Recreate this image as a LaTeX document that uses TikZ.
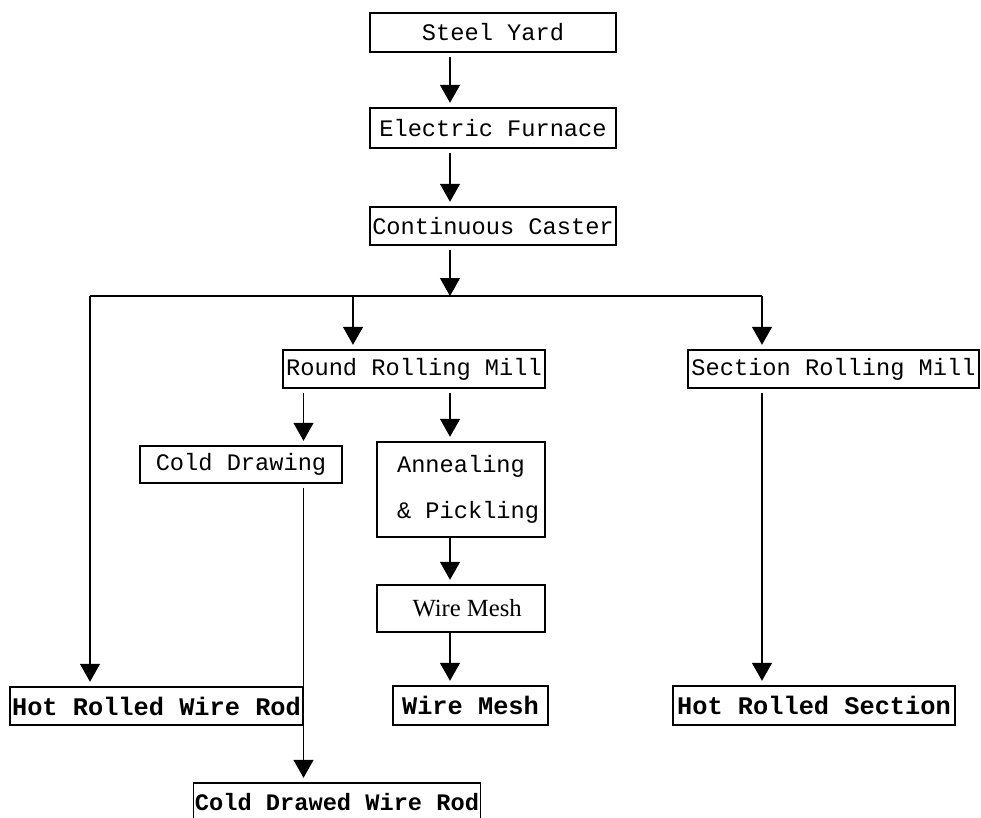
\documentclass[tikz,border=0pt]{standalone}
\usepackage{fontspec}
\setmonofont{Liberation Mono}
\newfontfamily\meshfont{Liberation Serif}
\usetikzlibrary{arrows.meta}

\begin{document}
\begin{tikzpicture}[x=0.75pt,y=0.75pt,yscale=-1,xscale=1,
  stagebox/.style={draw,line width=0.8pt,inner sep=0pt,font=\ttfamily\fontsize{17.75}{20}\selectfont},
  goodsbox/.style={draw,line width=0.8pt,inner sep=0pt,font=\ttfamily\bfseries\fontsize{19}{22}\selectfont},
  flow/.style={line width=1pt,-{Triangle[width=15pt,length=13.5pt]},shorten <=3pt,shorten >=3.5pt}]
\useasboundingbox (0,0) rectangle (981,817);

% Text Node
\node [stagebox,minimum width=184.5pt,minimum height=29.25pt] (yard) at (493,32.5) {Steel Yard};
% Text Node
\node [stagebox,minimum width=184.5pt,minimum height=30pt] (furnace) at (493,128) {Electric Furnace};
% Text Node
\node [stagebox,minimum width=184.5pt,minimum height=28.5pt] (caster) at (493,226) {Continuous Caster};
% Text Node
\node [stagebox,minimum width=196.5pt,minimum height=28.5pt] (round) at (414,369) {Round Rolling Mill};
% Text Node
\node [stagebox,minimum width=218.25pt,minimum height=28.5pt] (section) at (833.5,369) {Section Rolling Mill};
% Text Node
\node [stagebox,minimum width=151.5pt,minimum height=27.75pt] (colddraw) at (241,464.5) {Cold Drawing};
% Text Node
\node [stagebox,minimum width=126pt,minimum height=71.25pt,align=center,font=\ttfamily\fontsize{17.75}{35}\selectfont] (anneal) at (461,489.5) {Annealing\\\ \& Pickling};
% Text Node
\node [stagebox,minimum width=126pt,minimum height=35.25pt,font=\meshfont\fontsize{18.5}{20}\selectfont] (mesh) at (461,608.5) {\ \ Wire Mesh};
% Text Node
\node [goodsbox,minimum width=219.75pt,minimum height=28.5pt] (hotrod) at (156.5,706) {Hot Rolled Wire Rod};
% Text Node
\node [goodsbox,minimum width=116.25pt,minimum height=29.25pt] (meshprod) at (470.5,705.5) {Wire Mesh};
% Text Node
\node [goodsbox,minimum width=211.5pt,minimum height=29.25pt] (hotsec) at (814,705.5) {Hot Rolled Section};
% Text Node
\node [goodsbox,minimum width=215.25pt,minimum height=28.5pt,font=\ttfamily\bfseries\fontsize{17.75}{20}\selectfont] (colddrawed) at (337,802) {Cold Drawed Wire Rod};

% Branch points
\coordinate (spine) at (450,0);
\coordinate (cdx) at (303.5,0);
\coordinate (bl) at (90,296);
\coordinate (rx) at (353,296);
\coordinate (br) at (762,296);

%Straight Lines
\draw [flow] (yard.south -| spine) -- (furnace.north -| spine);
\draw [flow] (furnace.south -| spine) -- (caster.north -| spine);
\draw [flow,shorten >=0pt] (caster.south -| spine) -- (spine |- bl);
\draw [line width=1pt] (bl) -- (br);
\draw [flow,shorten <=0pt] (bl) -- (hotrod.north -| bl);
\draw [flow,shorten <=0pt] (rx) -- (round.north -| rx);
\draw [flow,shorten <=0pt] (br) -- (section.north -| br);
\draw [flow] (round.south -| cdx) -- (colddraw.north -| cdx);
\draw [flow] (round.south -| spine) -- (anneal.north -| spine);
\draw [flow,shorten <=0pt] (anneal.south -| spine) -- (mesh.north -| spine);
\draw [flow,shorten <=0pt] (mesh.south -| spine) -- (meshprod.north -| spine);
\draw [flow] (colddraw.south -| cdx) -- (colddrawed.north -| cdx);
\draw [flow] (section.south -| br) -- (hotsec.north -| br);

\end{tikzpicture}
\end{document}
